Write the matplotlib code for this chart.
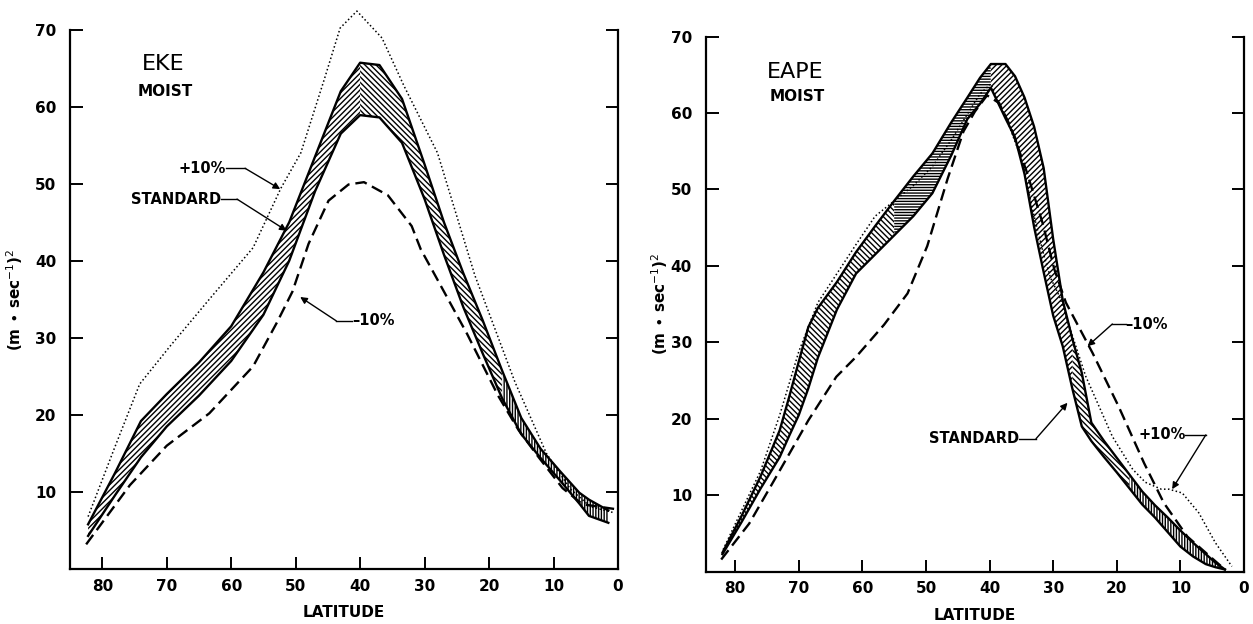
import numpy as np
import matplotlib.pyplot as plt

plt.rcParams['font.family'] = 'DejaVu Sans'
plt.rcParams['hatch.linewidth'] = 1.0

# ---- EKE (left panel) ----
eke_lat = [82.2, 78, 74, 70, 65, 60, 55, 51, 47, 43, 40, 37, 33.5, 30, 27, 24, 21, 18, 15, 12, 9, 6, 4.5, 1.5]
eke_std_hi = [5.8, 12.5, 19.2, 22.7, 26.8, 31.5, 38.5, 45, 53.5, 62, 65.7, 65.4, 61, 52.5, 45, 38.4, 32.3, 25.8, 19.6, 15.6, 12.7, 9.9, 9.0, 7.6]
eke_std_lo = [4.3, 9.6, 14.5, 18.5, 22.5, 27, 33, 40, 49, 56.5, 58.9, 58.6, 55.3, 48, 40.8, 34, 28, 22.2, 17.5, 14.4, 11.5, 8.5, 6.9, 6.0]

eke_p10_lat = [82.2, 78.2, 74.2, 69.5, 63.4, 56.6, 52.3, 49.2, 45.5, 43.1, 40.5, 36.6, 33.2, 28, 22.2, 16, 11.1, 7.4, 4.3, 0.6]
eke_p10 = [6.8, 15.5, 24, 28.9, 35, 41.7, 49.4, 54, 63.7, 70.2, 72.4, 68.9, 62.7, 54, 38.1, 24.3, 15, 10.4, 8.1, 7.3]

eke_m10_lat = [82.5, 75.7, 70, 63.4, 56.6, 52.9, 50.5, 48, 44.9, 41.8, 39.4, 35.7, 32, 30.6, 28.3, 23.4, 18.6, 15.4, 12.3, 8.6, 5.5, 0.6]
eke_m10 = [3.2, 10.9, 16, 20.2, 26.3, 32, 36, 42.2, 47.8, 49.9, 50.2, 48.5, 44.5, 41.5, 38, 30.5, 22.5, 18, 14.5, 10.5, 8.4, 7.8]

# ---- EAPE (right panel) ----
eape_lat = [82, 79, 76, 73, 71.5, 70, 68.5, 67, 64, 61, 58, 55, 52, 49, 46, 43.5, 41.5, 39.8, 37.5, 36, 34.5, 33, 31.5, 30, 28.5, 27, 25.5, 24, 22, 20, 18, 16, 14, 12, 10, 8, 6, 4.5, 3]
eape_std_hi = [2.5, 7.3, 12.5, 18.5, 22.9, 27.5, 32, 34.5, 37.9, 41.8, 45.2, 48.5, 51.7, 54.7, 58.8, 62, 64.6, 66.4, 66.4, 64.8, 62, 58.2, 52.8, 43.5, 35.5, 30.5, 26, 19.5, 17.1, 14.9, 12.7, 10.5, 8.7, 7.1, 5.4, 3.8, 2.3, 1.2, 0.3]
eape_std_lo = [2.3, 6.5, 10.9, 15, 17.8, 20.5, 24, 28, 34.3, 39, 41.5, 44, 46.5, 49.5, 54.5, 59.2, 61.2, 63.3, 59.3, 56.8, 52, 45.1, 39.2, 33.5, 29.5, 24, 19, 17.1, 15, 13, 10.9, 8.8, 7.1, 5.2, 3.3, 2, 1.0, 0.6, 0.3]

eape_p10_lat = [81.9, 79, 76, 73, 70, 67, 64, 61, 58, 55, 52, 49, 46, 43, 41.5, 39.8, 37, 35, 33, 31.5, 30.4, 29, 24.9, 20.7, 17.5, 15.5, 13, 11.8, 9.7, 7.1, 4.5, 1.9]
eape_p10 = [2.9, 8, 13.2, 20.5, 28.8, 35.2, 39, 42.8, 46.5, 48.5, 50.5, 53, 56.5, 60.5, 62.5, 63.8, 58.5, 54, 46.5, 41.5, 38.4, 36, 25.6, 17.7, 13.4, 11.7, 10.8, 10.8, 10.3, 7.7, 3.8, 0.7]

eape_m10_lat = [82.2, 77.8, 73.5, 68.5, 64.1, 61, 56.6, 52.9, 49.8, 46.6, 44.1, 42.3, 40.4, 38.5, 36.7, 34.2, 31.7, 29.8, 28, 23.8, 19.7, 15.7, 12.6, 8.9, 4.8, 3.0]
eape_m10 = [1.6, 6.3, 12.5, 19.8, 25.5, 28.1, 32.3, 36.4, 42.6, 51.4, 57.6, 60.2, 62.3, 61.3, 58.2, 52.4, 45.7, 39.5, 35.2, 28.6, 21.6, 14.2, 9, 4.6, 1.6, 0.3]

x_ticks = [80, 70, 60, 50, 40, 30, 20, 10, 0]
y_ticks = [10, 20, 30, 40, 50, 60, 70]


def draw_band(ax, lat, lo, hi, segments):
    lat = np.array(lat)
    for a, b, hatch in segments:
        mask = (lat <= a) & (lat >= b)
        ax.fill_between(lat, lo, hi, where=mask, facecolor='white',
                        edgecolor='black', hatch=hatch, linewidth=0)
    ax.plot(lat, hi, color='black', lw=1.7)
    ax.plot(lat, lo, color='black', lw=1.7)


def label_arrow(ax, text, text_xy, stub_end, tip, ha):
    ax.text(text_xy[0], text_xy[1], text, ha=ha, va='center',
            fontsize=10.5, fontweight='bold')
    ax.plot([text_xy[0], stub_end[0]], [text_xy[1], stub_end[1]],
            color='black', lw=1.0)
    ax.annotate('', xy=tip, xytext=stub_end,
                arrowprops=dict(arrowstyle='-|>', color='black', lw=1.0,
                                mutation_scale=10, shrinkA=0, shrinkB=0))


def setup(ax, xmax):
    ax.set_xlim(xmax, 0)
    ax.set_ylim(0, 70)
    ax.set_xticks(x_ticks)
    ax.set_yticks(y_ticks)
    ax.spines['top'].set_visible(False)
    for s in ['left', 'right', 'bottom']:
        ax.spines[s].set_linewidth(1.6)
    ax.tick_params(axis='both', direction='in', length=9, width=1.4,
                   labelsize=11, right=True, labelright=False)
    ax.tick_params(axis='x', pad=7)
    ax.tick_params(axis='y', pad=10)
    for lbl in ax.get_xticklabels() + ax.get_yticklabels():
        lbl.set_fontweight('bold')
    ax.set_xlabel('LATITUDE', fontsize=11, fontweight='bold', labelpad=8)
    ax.set_ylabel(r'(m $\bullet$ sec$^{-1}$)$^{2}$', fontsize=11, fontweight='bold')


fig = plt.figure(figsize=(12.53, 6.24), dpi=100)
ax1 = fig.add_axes([0.0559, 0.0881, 0.4373, 0.8645])
ax2 = fig.add_axes([0.5634, 0.0837, 0.4294, 0.8578])

# left panel
draw_band(ax1, eke_lat, eke_std_lo, eke_std_hi,
          [(90, 40, '//////'), (40, 18, '\\\\\\\\\\\\'), (18, 0, '||||||')])
ax1.plot(eke_p10_lat, eke_p10, color='black', lw=1.1, linestyle=(0, (1, 1.6)), clip_on=False)
ax1.plot(eke_m10_lat, eke_m10, color='black', lw=1.7, linestyle=(0, (5, 2.5)))
setup(ax1, 85)
ax1.yaxis.set_label_coords(-0.083, 0.5)
ax1.text(70.5, 65.5, 'EKE', fontsize=16, ha='center', va='center')
ax1.text(70.2, 61.9, 'MOIST', fontsize=11, fontweight='bold', ha='center', va='center')
label_arrow(ax1, '+10%', (60.8, 52.0), (57.85, 52.0), (52.4, 49.3), 'right')
label_arrow(ax1, 'STANDARD', (61.6, 48.0), (59.1, 48.0), (51.4, 43.9), 'right')
label_arrow(ax1, '–10%', (41.2, 32.2), (43.7, 32.2), (49.3, 35.3), 'left')

# right panel
draw_band(ax2, eape_lat, eape_std_lo, eape_std_hi,
          [(90, 55, '\\\\\\\\\\\\'), (55, 39.8, '------'), (39.8, 27, '//////'),
           (27, 18, '\\\\\\\\\\\\'), (18, 0, '||||||')])
ax2.plot(eape_p10_lat, eape_p10, color='black', lw=1.1, linestyle=(0, (1, 1.6)), clip_on=False)
ax2.plot(eape_m10_lat, eape_m10, color='black', lw=1.7, linestyle=(0, (5, 2.5)))
setup(ax2, 84.6)
ax2.yaxis.set_label_coords(-0.067, 0.5)
ax2.text(70.5, 65.4, 'EAPE', fontsize=16, ha='center', va='center')
ax2.text(70.3, 62.1, 'MOIST', fontsize=11, fontweight='bold', ha='center', va='center')
label_arrow(ax2, '–10%', (18.6, 32.4), (20.7, 32.4), (24.6, 29.5), 'left')
label_arrow(ax2, 'STANDARD', (35.3, 17.4), (32.7, 17.4), (27.75, 22.1), 'right')
label_arrow(ax2, '+10%', (9.2, 17.9), (6.0, 17.9), (11.3, 10.8), 'right')

fig.savefig('out.png', dpi=100)
